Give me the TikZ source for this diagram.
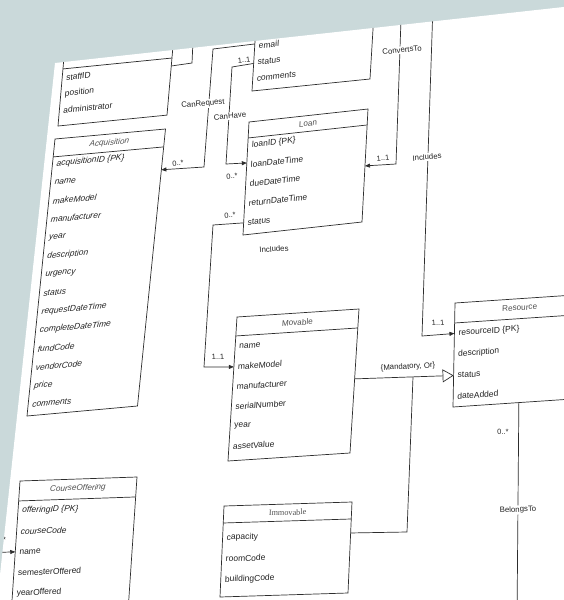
\documentclass[tikz,border=0pt]{standalone}
\usepackage{fontspec}
\setmainfont{Liberation Sans}
\newfontfamily\serifhead{Liberation Serif}
\usetikzlibrary{arrows.meta,calc}
\definecolor{bggray}{RGB}{202,217,218}
\definecolor{ln}{RGB}{45,45,45}
\definecolor{tx}{RGB}{34,34,34}
\definecolor{hd}{RGB}{80,80,80}
% frame of a box: top-left, top-right, bottom-left corner (image px, y down)
\newcommand\mkframe[6]{%
  \pgfmathsetmacro\fw{veclen(#3-#1,#4-#2)}%
  \pgfmathsetmacro\fh{veclen(#5-#1,#6-#2)}%
  \pgfmathsetmacro\fa{(#3-#1)/\fw}%
  \pgfmathsetmacro\fb{-(#4-#2)/\fw}%
  \pgfmathsetmacro\fc{-(#5-#1)/\fh}%
  \pgfmathsetmacro\fd{(#6-#2)/\fh}%
  \def\ftu{#1}\def\ftv{#2}}
\tikzset{
  frame/.style={cm={\fa,\fb,\fc,\fd,(\ftu,\ftv)}, transform shape},
  boxline/.style={draw=ln, line width=0.7pt},
  rowtxt/.style={font=\fontsize{8.5}{10}\selectfont, text=tx, anchor=west, inner sep=0pt},
  rowit/.style={rowtxt, font=\fontsize{8.5}{10}\selectfont\itshape},
  headtxt/.style={font=\fontsize{8.2}{9}\selectfont, text=hd, inner sep=0pt},
  conn/.style={draw=ln, line width=0.7pt},
  tip/.style={-{Triangle[length=5pt,width=4pt]}},
  gentip/.style={-{Triangle[open,length=11pt,width=13pt,fill=white]}},
  lbl/.style={font=\fontsize{7.8}{9}\selectfont, text=tx, fill=white, inner sep=1pt},
  mult/.style={font=\fontsize{7.5}{8}\selectfont, text=tx, inner sep=0pt},
}
\begin{document}
\begin{tikzpicture}[x=1pt,y=-1pt]
\useasboundingbox (0,0) rectangle (564,600);
\fill[bggray] (0,0) rectangle (564,600);
\fill[white] (55,63) -- (640,-1.4) -- (640,640) -- (-7,640) -- cycle;
\begin{scope}
\clip (55,63) -- (640,-1.4) -- (640,640) -- (-7,640) -- cycle;

% ---------- Staff (partial)
\mkframe{64.7}{49}{173.7}{38.1}{58}{126}
\begin{scope}[frame]
  \draw[boxline] (0,0) rectangle (\fw,\fh);
  \draw[boxline] (0,20) -- (\fw,20);
  \node[rowtxt] (st1) at (4,29) {staffID};
  \node[rowtxt] (st2) at (4,45.5) {position};
  \node[rowtxt] (st3) at (4,62) {administrator};
  \coordinate (stC) at (\fw,28);
\end{scope}

% ---------- email box (partial)
\mkframe{256.3}{20}{374.3}{8}{252}{91}
\begin{scope}[frame]
  \draw[boxline] (0,0) rectangle (\fw,\fh);
  \node[rowtxt] (em1) at (4,26) {email};
  \node[rowtxt] (em2) at (4,42.5) {status};
  \node[rowtxt] (em3) at (4,59) {comments};
  \coordinate (emCR) at (0,24);
  \coordinate (emCH) at (0,43.5);
\end{scope}

% ---------- Acquisition
\mkframe{55}{139}{165.5}{129}{27}{416}
\begin{scope}[frame]
  \draw[boxline] (0,0) rectangle (\fw,\fh);
  \draw[boxline] (0,18) -- (\fw,18);
  \node[headtxt, font=\fontsize{8.2}{9}\selectfont\itshape] (acqH) at ({\fw/2},9) {Acquisition};
  \foreach \t [count=\i from 0] in {acquisitionID \{PK\}, name, makeModel, manufacturer, year, description, urgency, status, requestDateTime, completeDateTime, fundCode, vendorCode, price, comments}
    {\node[rowit] (acq\i) at (4,{25.5+18.6*\i}) {\t};}
  \coordinate (acqCR) at (\fw,41);
\end{scope}

% ---------- Loan
\mkframe{249}{122}{368}{109}{243}{235}
\begin{scope}[frame]
  \draw[boxline] (0,0) rectangle (\fw,\fh);
  \draw[boxline] (0,16) -- (\fw,16);
  \node[headtxt] (loanH) at ({\fw/2},8) {Loan};
  \foreach \t [count=\i from 0] in {loanID \{PK\}, loanDateTime, dueDateTime, returnDateTime, status}
    {\node[rowtxt] (loan\i) at (4,{23.6+19.4*\i}) {\t};}
  \coordinate (loanCH) at (0,41);
  \coordinate (loanCV) at (\fw,57);
  \coordinate (loanIN) at (0,101);
\end{scope}

% ---------- Movable
\mkframe{237}{317}{359}{309}{228}{461}
\begin{scope}[frame]
  \draw[boxline] (0,0) rectangle (\fw,\fh);
  \draw[boxline] (0,19) -- (\fw,19);
  \node[headtxt] (movH) at ({\fw/2},9.5) {Movable};
  \foreach \t [count=\i from 0] in {name, makeModel, manufacturer, serialNumber, year, assetValue}
    {\node[rowtxt] (mov\i) at (4,{30+20*\i}) {\t};}
  \coordinate (movIN) at (0,50);
  \coordinate (movG) at (\fw,70);
\end{scope}

% ---------- Resource
\mkframe{455}{303}{584.7}{294.3}{453}{407}
\begin{scope}[frame]
  \draw[boxline] (0,0) rectangle (\fw,\fh);
  \draw[boxline] (0,20) -- (\fw,20);
  \node[headtxt] (resH) at ({\fw/2},9) {Resource};
  \foreach \t [count=\i from 0] in {resourceID \{PK\}, description, status, dateAdded}
    {\node[rowtxt] (res\i) at (4,{30.5+21*\i}) {\t};}
  \coordinate (resIN) at (0,30.5);
  \coordinate (resG) at (0,72.5);
  \coordinate (resB) at (66,\fh);
\end{scope}

% ---------- Immovable
\mkframe{224}{506}{352}{502}{220}{597}
\begin{scope}[frame]
  \draw[boxline] (0,0) rectangle (\fw,\fh);
  \draw[boxline] (0,17) -- (\fw,17);
  \node[headtxt, font=\fontsize{8.2}{9}\serifhead] (immH) at ({\fw/2},8.5) {Immovable};
  \node[rowtxt] (imm0) at (4,32) {capacity};
  \node[rowtxt] (imm1) at (4,53) {roomCode};
  \node[rowtxt] (imm2) at (4,74) {buildingCode};
  \coordinate (immG) at (\fw,31);
\end{scope}

% ---------- CourseOffering
\mkframe{20}{481}{137}{477}{11.3}{611}
\begin{scope}[frame]
  \draw[boxline] (0,0) rectangle (\fw,\fh);
  \draw[boxline] (0,20) -- (\fw,20);
  \node[headtxt, font=\fontsize{8.2}{9}\selectfont\itshape] (coH) at ({\fw/2},9.5) {CourseOffering};
  \node[rowit] (co0) at (4,30) {offeringID \{PK\}};
  \node[rowit] (co1) at (4,50.7) {courseCode};
  \node[rowtxt] (co2) at (4,71.4) {name};
  \node[rowtxt] (co3) at (4,92.1) {semesterOffered};
  \node[rowtxt] (co4) at (4,112.8) {yearOffered};
  \coordinate (coIN) at (0,71);
\end{scope}

% ---------- bend points
\coordinate (sc1) at (192,63);
\coordinate (sc2) at (193.5,30);
\coordinate (cr1) at (213,49);
\coordinate (cr2) at (204,167);
\coordinate (ch1) at (232,67);
\coordinate (ch2) at (226,164);
\coordinate (lm1) at (213,225);
\coordinate (lm2) at (204,367);
\coordinate (cv0) at (401.5,5);
\coordinate (cv1) at (396,164);
\coordinate (in0) at (433,5);
\coordinate (in1) at (422,336);
\coordinate (im1) at (407,532);
\coordinate (im2) at (413,377);
\coordinate (bl1) at (517,620);
\coordinate (co9) at (-20,553);

% ---------- connectors
\draw[conn] (stC) -- (sc1) -- (sc2);
\draw[conn,tip] (emCR) -- (cr1) -- (cr2) -- (acqCR);
\draw[conn,tip] (emCH) -- (ch1) -- (ch2) -- (loanCH);
\draw[conn,tip] (loanIN) -- (lm1) -- (lm2) -- (movIN);
\draw[conn,tip] (cv0) -- (cv1) -- (loanCV);
\draw[conn,tip] (in0) -- (in1) -- (resIN);
\draw[conn] (immG) -- (im1) -- (im2);
\draw[conn,gentip] (movG) -- (resG);
\draw[conn] (resB) -- (bl1);
\draw[conn,tip] (co9) -- (coIN);

% ---------- labels
\node[lbl, rotate=5.5] (lCR) at (203,104) {CanRequest};
\node[lbl, rotate=5.5] (lCH) at (230,116) {CanHave};
\node[lbl, rotate=6] (lCV) at (402,50) {ConvertsTo};
\node[lbl, rotate=5] (lIN) at (427,157) {Includes};
\node[lbl, rotate=4.2] (lIN2) at (274,249) {Includes};
\node[lbl, rotate=3, fill=none] (lMO) at (408,367) {\{Mandatory, Or\}};
\node[lbl, rotate=1.6] (lBT) at (518,510) {BelongsTo};

\node[mult, rotate=5] (m1) at (178,163) {0..*};
\node[mult, rotate=6] (m2) at (244,60) {1..1};
\node[mult, rotate=5] (m3) at (232,176) {0..*};
\node[mult, rotate=5] (m4) at (383,158) {1..1};
\node[mult, rotate=3.7] (m5) at (438,323) {1..1};
\node[mult, rotate=4.5] (m6) at (230,215) {0..*};
\node[mult, rotate=3] (m7) at (218,357) {1..1};
\node[mult, rotate=2.4] (m8) at (503,432) {0..*};
\node[mult, rotate=2] (m9) at (4.5,540) {*};
\end{scope}
\end{tikzpicture}
\end{document}
